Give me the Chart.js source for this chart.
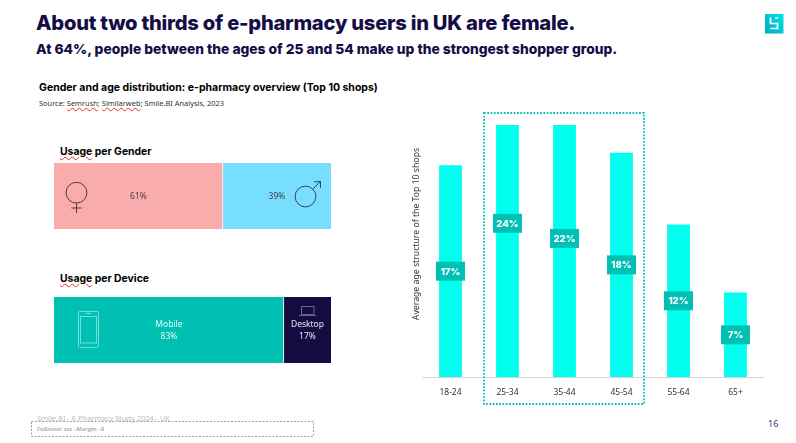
<!DOCTYPE html>
<html><head><meta charset="utf-8">
<script src="https://cdn.jsdelivr.net/npm/chart.js@4/dist/chart.umd.min.js"></script>
<style>
html,body{margin:0;padding:0;background:#fff;width:796px;height:443px;overflow:hidden}
body{position:relative;font-family:"Noto Sans",sans-serif}
.t{position:absolute;white-space:nowrap;line-height:1}
canvas{position:absolute}
.sq{text-decoration:underline wavy #e03030 0.7px;text-underline-offset:1px}
svg{position:absolute;left:0;top:0}
</style></head><body>
<div class="t" style="left:36px;top:10px;font:800 20.2px Inter;letter-spacing:-0.26px;color:#150d45">About two thirds of e-pharmacy users in UK are female.</div>
<div class="t" style="left:36px;top:41px;font:800 13.8px Inter;color:#150d45">At 64%, people between the ages of 25 and 54 make up the strongest shopper group.</div>
<div class="t" style="left:39px;top:81px;font:700 10.5px Inter;color:#000">Gender and age distribution: e-pharmacy overview (Top 10 shops)</div>
<div class="t" style="left:39px;top:98px;font:400 7.45px 'Noto Sans';color:#333">Source: <span class="sq">Semrush</span>; <span class="sq">Similarweb</span>; Smile.BI Analysis, 2023</div>
<div class="t" style="left:60px;top:145px;font:700 10.4px Inter;color:#000"><span class="sq">Usage</span> per Gender</div>
<div class="t" style="left:60px;top:272px;font:700 10.4px Inter;color:#000"><span class="sq">Usage</span> per Device</div>
<div class="t" style="left:37px;top:413px;font:400 7.45px 'Noto Sans';color:#bdbdbd">Smile.BI - E-Pharmacy Study 2024 - UK</div>
<div class="t" style="left:37px;top:425px;font:700 5.7px 'Noto Sans';color:#b0b0b0">Fußnote: sst –Margin –8</div>
<div class="t" style="left:768px;top:417px;font:400 9px 'Noto Sans';color:#3a3070">16</div>

<canvas id="gender" style="left:54px;top:163px;width:277px;height:66px"></canvas>
<canvas id="device" style="left:54px;top:297px;width:277px;height:66px"></canvas>
<canvas id="age" style="left:408px;top:91px;width:356px;height:316px"></canvas>

<svg width="796" height="443" fill="none">
 <rect x="31.5" y="421.5" width="282" height="15" stroke="#777" stroke-width="0.7" stroke-dasharray="2 1.5"/>
 <rect x="484" y="113" width="160" height="291" stroke="#00bfb3" stroke-width="1.8" stroke-dasharray="1.7 1.6"/>
 <g stroke="#222" stroke-width="0.8">
  <circle cx="76.5" cy="192.7" r="10.4"/><path d="M76.5 203V213M71.5 208H81.5"/>
  <circle cx="305.5" cy="196.5" r="10.4"/><path d="M312.8 189L320.5 181.5M314 181.7H320.5V188"/>
 </g>
 <g stroke="#7fe0d9" stroke-width="0.9">
  <rect x="78.5" y="311.5" width="20" height="36" rx="1"/>
  <rect x="80.5" y="316.5" width="16" height="26.5"/>
  <path d="M86 313.5H91"/>
 </g>
 <g stroke="#726c96" stroke-width="0.9">
  <rect x="301.5" y="306.5" width="12.5" height="8"/>
  <path d="M299 315.5H316"/>
 </g>
 <defs><linearGradient id="lg" x1="0" y1="1" x2="1" y2="0"><stop offset="0" stop-color="#00a7c4"/><stop offset="1" stop-color="#00e6df"/></linearGradient></defs>
 <rect x="765" y="14" width="18.5" height="19.5" fill="url(#lg)"/>
 <path d="M770.5 17.5V23.5H777.5V28.5H770.5M775 18H778" stroke="#fff" stroke-width="1.7"/>
</svg>

<script>
const genderLabels = ["61%", "39%"];
const genderValues = [61, 39];
const genderColors = ["#faacac", "#78deff"];
const deviceLabels = [["Mobile", "83%"], ["Desktop", "17%"]];
const deviceValues = [83, 17];
const deviceColors = ["#00bfb3", "#150b40"];
const ageCategories = ["18-24", "25-34", "35-44", "45-54", "55-64", "65+"];
const ageValues = [16.8, 24.4, 22, 17.8, 12.1, 6.7];
const axisTitle = "Average age structure of the Top 10 shops";

function stackedBar(id, values, colors, labels, textColors) {
  const centerText = {
    id: "centerText",
    afterDatasetsDraw(chart) {
      const c = chart.ctx;
      chart.data.datasets.forEach((ds, i) => {
        const el = chart.getDatasetMeta(i).data[0];
        const lines = [].concat(labels[i]);
        const cx = (el.x + el.base) / 2;
        c.save();
        c.font = "400 8.5px 'Noto Sans'";
        c.textAlign = "center";
        c.textBaseline = "middle";
        c.fillStyle = textColors[i];
        lines.forEach((t, k) => c.fillText(t, cx, el.y + 1 + (k - (lines.length - 1) / 2) * 12));
        c.restore();
      });
    }
  };
  return new Chart(document.getElementById(id), {
    type: "bar",
    data: {
      labels: [""],
      datasets: values.map((v, i) => ({
        data: [v],
        backgroundColor: colors[i],
        borderColor: "#fff",
        borderWidth: i === 0 ? { right: 1 } : 0,
        borderSkipped: false,
        barPercentage: 1,
        categoryPercentage: 1
      }))
    },
    options: {
      indexAxis: "y",
      responsive: false,
      animation: false,
      layout: { padding: 0 },
      plugins: { legend: { display: false }, tooltip: { enabled: false } },
      scales: {
        x: { display: false, stacked: true, min: 0, max: 100 },
        y: { display: false, stacked: true }
      }
    },
    plugins: [centerText]
  });
}
function sizeCanvas(id, w, h) { const e = document.getElementById(id); e.width = w; e.height = h; }
sizeCanvas("gender", 277, 66);
sizeCanvas("device", 277, 66);
sizeCanvas("age", 356, 316);
stackedBar("gender", genderValues, genderColors, genderLabels, ["#444", "#444"]);
stackedBar("device", deviceValues, deviceColors, deviceLabels, ["#e6fbf9", "#e6e4f2"]);

const valueBoxes = {
  id: "valueBoxes",
  afterDatasetsDraw(chart) {
    const c = chart.ctx;
    chart.getDatasetMeta(0).data.forEach((el, i) => {
      const cy = (el.y + el.base) / 2;
      c.save();
      c.fillStyle = "#00bfb3";
      c.fillRect(el.x - 14.5, cy - 9.5, 29, 19);
      c.fillStyle = "#fff";
      c.font = "800 9.6px Inter";
      c.textAlign = "center";
      c.textBaseline = "middle";
      c.fillText(Math.round(ageValues[i]) + "%", el.x, cy + 0.5);
      c.restore();
    });
  }
};
new Chart(document.getElementById("age"), {
  type: "bar",
  data: {
    labels: ageCategories,
    datasets: [{
      data: ageValues,
      backgroundColor: "#00ffee",
      barPercentage: 0.4,
      categoryPercentage: 1,
      clip: { left: 0, right: 0, bottom: 0, top: -34 }
    }]
  },
  options: {
    responsive: false,
    animation: false,
    layout: { padding: 0 },
    plugins: { legend: { display: false }, tooltip: { enabled: false } },
    scales: {
      x: {
        afterFit(s) { s.height = 30; },
        grid: { display: false },
        border: { display: true, color: "#d4d4d4", width: 1 },
        ticks: { color: "#333", font: { family: "Noto Sans", size: 8.5 }, padding: 2, maxRotation: 0 }
      },
      y: {
        min: 0,
        max: 22.7,
        afterFit(s) { s.width = 14; },
        grid: { display: false },
        border: { display: false },
        ticks: { display: false },
        title: { display: true, text: axisTitle, color: "#333", padding: { top: 3, bottom: 0 }, font: { family: "Noto Sans", size: 8.7, weight: 400 } }
      }
    }
  },
  plugins: [valueBoxes]
});
</script>
</body></html>
